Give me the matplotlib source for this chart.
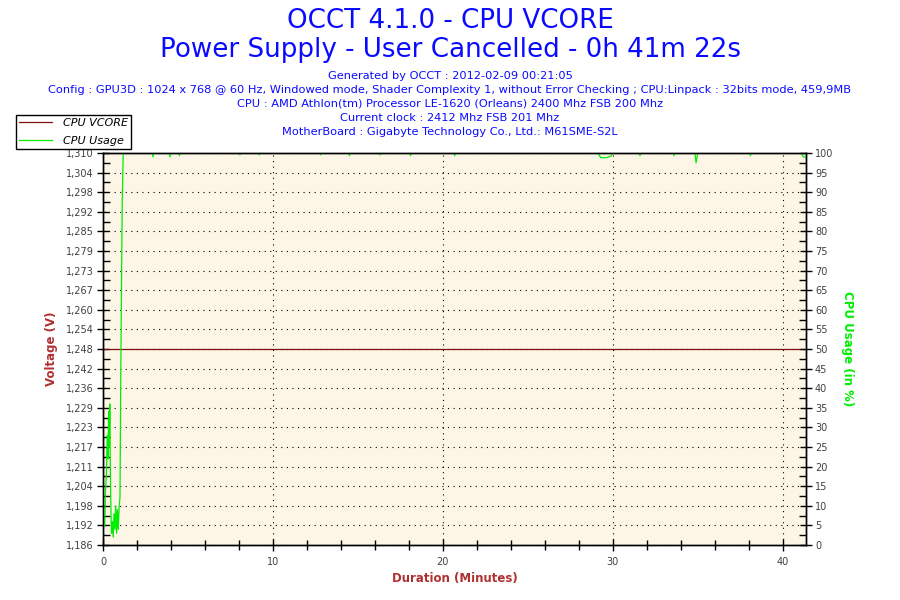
import numpy as np
import matplotlib
matplotlib.use("Agg")
from matplotlib import pyplot as plt
from matplotlib.ticker import MultipleLocator, FixedLocator

# CPU VCORE (V), constant over the run
vcore_time = [0.0, 41.37]
vcore = [1.248, 1.248]

# CPU usage (%): ramp-up at the start, then ~100 % with small dips
cpu_time = [0.00, 0.05, 0.10, 0.15, 0.20, 0.25, 0.30, 0.33, 0.37, 0.40,
            0.43, 0.47, 0.50, 0.55, 0.60, 0.65, 0.70, 0.75, 0.80, 0.85,
            0.90, 0.95, 1.00, 1.04, 1.08, 1.13, 1.19,
            2.90, 2.94, 2.98, 3.90, 3.94, 3.98, 4.46, 4.50, 4.54,
            8.02, 8.06, 8.10, 9.16, 9.20, 9.24, 12.76, 12.80, 12.84,
            14.46, 14.50, 14.54, 16.26, 16.30, 16.34, 18.06, 18.10, 18.14,
            20.66, 20.70, 20.74, 29.10, 29.30, 29.60, 29.90, 30.00,
            31.56, 31.60, 31.64, 33.56, 33.60, 33.64, 34.84, 34.90, 35.00,
            38.06, 38.10, 38.14, 41.10, 41.20, 41.37]
cpu_usage = [3, 6, 5, 14, 18, 28, 22, 34, 25, 36,
             20, 8, 3, 6, 2, 8, 4, 10, 3, 9,
             4, 10, 12, 40, 61, 87, 100,
             100, 99, 100, 100, 99, 100, 100, 99.3, 100,
             100, 99.5, 100, 100, 99.5, 100, 100, 99.5, 100,
             100, 99.3, 100, 100, 99.5, 100, 100, 99.3, 100,
             100, 99.3, 100, 100, 98.8, 98.8, 99.2, 100,
             100, 99.3, 100, 100, 99.3, 100, 100, 97.5, 100,
             100, 99.3, 100, 100, 99.0, 99.0]

v_min, v_max = 1.186, 1.310
v_labels = ["1,186", "1,192", "1,198", "1,204", "1,211", "1,217", "1,223",
            "1,229", "1,236", "1,242", "1,248", "1,254", "1,260", "1,267",
            "1,273", "1,279", "1,285", "1,292", "1,298", "1,304", "1,310"]
v_ticks = np.linspace(v_min, v_max, len(v_labels))
pct_ticks = list(range(0, 101, 5))

title_lines = ["OCCT 4.1.0 - CPU VCORE",
               "Power Supply - User Cancelled - 0h 41m 22s"]
info_lines = ["Generated by OCCT : 2012-02-09 00:21:05",
              "Config : GPU3D : 1024 x 768 @ 60 Hz, Windowed mode, Shader Complexity 1, "
              "without Error Checking ; CPU:Linpack : 32bits mode, 459,9MB",
              "CPU : AMD Athlon(tm) Processor LE-1620 (Orleans) 2400 Mhz FSB 200 Mhz",
              "Current clock : 2412 Mhz FSB 201 Mhz",
              "MotherBoard : Gigabyte Technology Co., Ltd.: M61SME-S2L"]

red = "#7f1010"
green = "#00ee00"
label_red = "#b03030"
blue = "#0a0aff"
tick_grey = "#404040"

fig = plt.figure(figsize=(9, 6), dpi=100)
ax = fig.add_axes([103 / 900, 55 / 600, 703 / 900, 392 / 600])
ax.set_facecolor("#fdf6e7")
ax2 = ax.twinx()

ax.plot(vcore_time, vcore, color=red, lw=0.9, label="CPU VCORE")
ax2.plot(cpu_time, cpu_usage, color=green, lw=0.9, label="CPU Usage")

ax.set_xlim(0, 41.37)
ax.set_ylim(v_min, v_max)
ax2.set_ylim(0, 100)

ax.xaxis.set_major_locator(MultipleLocator(10))
ax.xaxis.set_minor_locator(MultipleLocator(2))
ax.set_yticks(v_ticks, v_labels)
ax.yaxis.set_minor_locator(FixedLocator(v_ticks[:-1] + (v_ticks[1] - v_ticks[0]) / 2))
ax2.yaxis.set_major_locator(FixedLocator(pct_ticks))
ax2.yaxis.set_minor_locator(MultipleLocator(2.5))

ax.grid(True, which="major", color="black", linestyle=(0, (1, 4)), lw=0.8)

for a in (ax, ax2):
    a.tick_params(which="major", direction="inout", length=9, width=1,
                  labelsize=7, labelcolor=tick_grey, pad=2)
    a.tick_params(which="minor", direction="in", length=5, width=1)
    for s in a.spines.values():
        s.set_linewidth(1)
ax.tick_params(axis="x", which="major", pad=4)
ax.tick_params(axis="x", which="minor", direction="inout", length=7)

ax.set_xlabel("Duration (Minutes)", color=label_red, fontsize=8.5, fontweight="bold")
ax.set_ylabel("Voltage (V)", color=label_red, fontsize=8.5, fontweight="bold", labelpad=6)
ax2.set_ylabel("CPU Usage (in %)", color=green, fontsize=8.5, fontweight="bold",
               rotation=-90, labelpad=15)

fig.text(0.5, 1 - 21 / 600, title_lines[0], ha="center", va="center",
         color=blue, fontsize=18.8)
fig.text(0.5, 1 - 50 / 600, title_lines[1], ha="center", va="center",
         color=blue, fontsize=18.8)
for i, line in enumerate(info_lines):
    fig.text(0.5, 1 - (76 + 14 * i) / 600, line, ha="center", va="center",
             color=blue, fontsize=8.2)

handles = ax.get_lines()[:1] + ax2.get_lines()[:1]
leg = fig.legend(handles, [h.get_label() for h in handles],
                 loc="upper left", bbox_to_anchor=(16 / 900, 1 - 115 / 600),
                 fancybox=False, edgecolor="black", framealpha=1,
                 prop={"size": 8, "style": "italic"}, borderpad=0.25,
                 labelspacing=0.75, handlelength=3.0, handletextpad=1.0,
                 borderaxespad=0)
leg.get_frame().set_linewidth(1)

fig.savefig("out.png", dpi=100)
